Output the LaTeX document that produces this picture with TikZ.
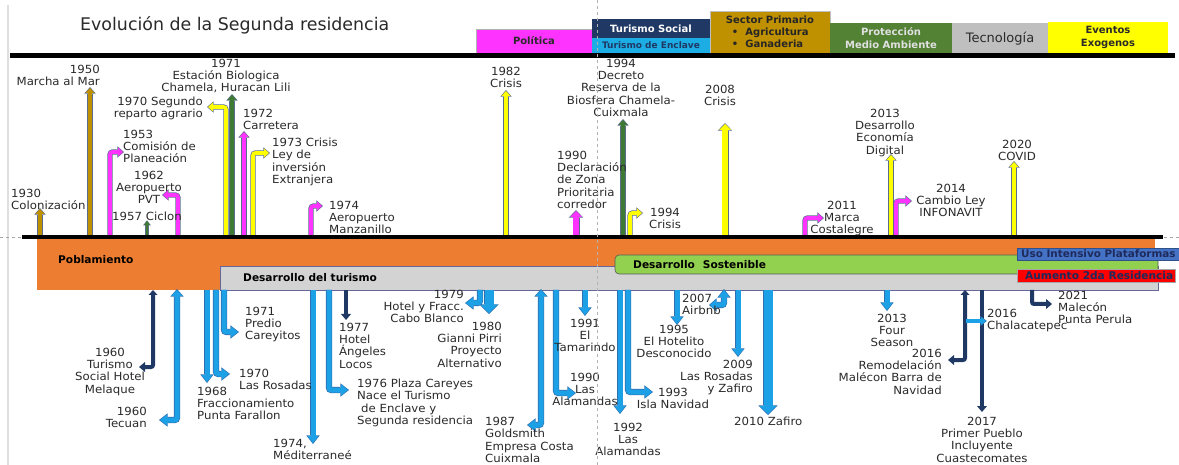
\documentclass[tikz,border=0pt]{standalone}
\usepackage{fontspec}
\setmainfont{DejaVu Sans}
\newfontfamily\lblfont{DejaVu Sans}[FakeStretch=1.05]
\usetikzlibrary{arrows.meta}
\definecolor{ochre}{HTML}{BF9000}
\definecolor{mag}{HTML}{FF33FF}
\definecolor{yel}{HTML}{FFFF00}
\definecolor{dgreen}{HTML}{3F7A35}
\definecolor{upline}{HTML}{5A6E8C}
\definecolor{lblue}{HTML}{1DA1E6}
\definecolor{lbline}{HTML}{2E6FB0}
\definecolor{navyc}{HTML}{1F3864}
\definecolor{orng}{HTML}{ED7D31}
\definecolor{bgray}{HTML}{D3D3D3}
\definecolor{sgreen}{HTML}{92D050}
\definecolor{pgreen}{HTML}{548235}
\definecolor{usoc}{HTML}{4472C4}
\definecolor{txt}{HTML}{2A2A2A}
\definecolor{tencc}{HTML}{1CADE4}
\definecolor{bandtxt}{HTML}{1F2A5C}
\newcommand\lbl{\lblfont\fontsize{11.2}{12.4}\selectfont}
\newcommand\hdr{\bfseries\fontsize{10}{12}\selectfont}
\newcommand\bnd{\bfseries\fontsize{10.6}{12}\selectfont}
\tikzset{
  lb/.style={font=\lbl, text=txt, inner sep=0pt, align=center},
  box/.style={anchor=north west, inner sep=0pt, outer sep=0pt},
  bt/.style={font=\bnd, inner sep=0pt, anchor=west},
  up/.style={line width=3.8pt, draw=#1, rounded corners=2.5pt,
    arrows={-Triangle[length=5pt,width=9pt,line width=0pt]},
    preaction={draw=upline, line width=5.2pt, rounded corners=2.5pt,
      arrows={-Triangle[length=6.6pt,width=11.4pt,line width=0pt]}, shorten >=-1pt}},
  upfat/.style={line width=5.5pt, draw=#1,
    arrows={-Triangle[length=6pt,width=12pt,line width=0pt]},
    preaction={draw=upline, line width=7pt,
      arrows={-Triangle[length=7.6pt,width=14.4pt,line width=0pt]}, shorten >=-1pt}},
  upthin/.style={line width=2.4pt, draw=#1,
    arrows={-Triangle[length=4pt,width=6pt,line width=0pt]},
    preaction={draw=upline, line width=3.4pt,
      arrows={-Triangle[length=5pt,width=7.6pt,line width=0pt]}, shorten >=-0.7pt}},
  dn/.style={line width=5pt, draw=lblue, rounded corners=2.5pt,
    arrows={-Triangle[length=7pt,width=11pt,line width=0pt]},
    preaction={draw=lbline, line width=6.4pt, rounded corners=2.5pt,
      arrows={-Triangle[length=8.6pt,width=13.4pt,line width=0pt]}, shorten >=-1pt}},
  dnS/.style={line width=3.6pt, draw=lblue,
    arrows={-Triangle[length=5pt,width=8pt,line width=0pt]},
    preaction={draw=lbline, line width=4.8pt,
      arrows={-Triangle[length=6.4pt,width=10pt,line width=0pt]}, shorten >=-0.8pt}},
  dnb/.style={line width=5pt, draw=lblue, rounded corners=2.5pt,
    arrows={Triangle[length=6pt,width=11pt,line width=0pt]-Triangle[length=7pt,width=11pt,line width=0pt]},
    preaction={draw=lbline, line width=6.4pt, rounded corners=2.5pt,
      arrows={Triangle[length=7.6pt,width=13.4pt,line width=0pt]-Triangle[length=8.6pt,width=13.4pt,line width=0pt]},
      shorten >=-1pt, shorten <=-1pt}},
  big/.style={line width=9pt, draw=lblue,
    arrows={-Triangle[length=8pt,width=17pt,line width=0pt]},
    preaction={draw=lbline, line width=10.4pt,
      arrows={-Triangle[length=9.6pt,width=19.4pt,line width=0pt]}, shorten >=-1pt}},
  nv/.style={line width=4pt, draw=navyc, rounded corners=2pt,
    arrows={-Triangle[length=6pt,width=10pt,line width=0pt]}},
  nvb/.style={line width=4pt, draw=navyc, rounded corners=2pt,
    arrows={Triangle[length=5pt,width=9pt,line width=0pt]-Triangle[length=6pt,width=10pt,line width=0pt]}},
}
\begin{document}
\begin{tikzpicture}[x=1pt,y=-1pt]
\useasboundingbox (0,0) rectangle (1179,465);
\fill[white] (0,0) rectangle (1179,465);
\draw[gray!25, line width=2pt] (8,5) -- (8,465);

% ---------- header ----------
\node[anchor=west, inner sep=0pt, font=\fontsize{17.4}{20}\selectfont, text=txt] (title) at (80,25) {Evolución de la Segunda residencia};
\node[box, fill=mag, draw=gray!60, line width=0.4pt, minimum width=116pt, minimum height=24pt, font=\hdr, text=txt] (pol) at (476,29) {Política};
\node[box, fill=navyc, minimum width=118pt, minimum height=19pt, font=\hdr, text=white] (tsoc) at (592,19) {Turismo Social};
\node[box, fill=tencc, minimum width=118pt, minimum height=15pt, font=\bfseries\fontsize{9}{11}\selectfont, text=navyc] (tenc) at (592,38) {Turismo de Enclave};
\node[box, fill=ochre, draw=gray!50, line width=0.4pt, minimum width=120pt, minimum height=42pt, font=\bfseries\fontsize{10}{12}\selectfont, text=black!85, align=left] (sec) at (710,11) {Sector Primario\\\hspace*{6pt}•\hspace*{7pt}Agricultura\\\hspace*{6pt}•\hspace*{7pt}Ganaderia};
\node[box, fill=pgreen, minimum width=122pt, minimum height=30pt, font=\bfseries\fontsize{10}{12.5}\selectfont, text=white!88!black, align=center] (prot) at (830,23) {Protección\\Medio Ambiente};
\node[box, fill=gray!50, minimum width=96pt, minimum height=32pt, font=\fontsize{13}{15}\selectfont, text=txt] (tec) at (952,23) {Tecnología};
\node[box, fill=yel, minimum width=120pt, minimum height=31pt, font=\bfseries\fontsize{10}{12.5}\selectfont, text=txt, align=center] (eve) at (1048,22) {Eventos\\Exogenos};
\draw[line width=5pt, black] (10,56) -- (1175,56);

% ---------- upward arrows ----------
\draw[up=ochre] (40,237) -- (40,209);
\draw[up=ochre] (90,237) -- (90,88);
\draw[upthin=dgreen] (147,237) -- (147,221);
\draw[up=dgreen] (232,237) -- (232,95);
\draw[up=mag] (244,237) -- (244,132);
\draw[up=yel] (506,237) -- (506,91);
\draw[upfat=mag] (576,237) -- (576,211);
\draw[up=dgreen] (623,237) -- (623,120);
\draw[upfat=yel] (725,237) -- (725,124);
\draw[up=yel] (891,237) -- (891,155);
\draw[up=yel] (1014,237) -- (1014,162);
\draw[up=mag] (110,237) |- (123,152);
\draw[up=mag] (178,237) |- (163,195);
\draw[up=yel] (226,237) |- (208,107);
\draw[up=yel] (253,237) |- (269,153);
\draw[up=mag] (311,237) |- (322,206);
\draw[up=yel] (630,237) |- (642,213);
\draw[up=mag] (805,237) |- (823,218);
\draw[up=mag] (896,237) |- (911,201);

% ---------- axis ----------
\draw[dashed, gray!70, line width=0.6pt] (0,237) -- (1179,237);
\draw[line width=4pt, black] (22,237) -- (1163,237);

% ---------- bands ----------
\node[box, fill=orng, minimum width=1118pt, minimum height=51pt] (pobl) at (37,239) {};
\node[box, fill=bgray, draw=gray!80!blue, line width=0.6pt, minimum width=938pt, minimum height=24pt] (dtur) at (220,266) {};
\node[box, fill=sgreen, draw=gray!70!black, line width=0.6pt, rounded corners=4pt, minimum width=543pt, minimum height=19pt] (dsos) at (615,255) {};
\node[box, fill=usoc, draw=usoc!70!black, line width=0.5pt, minimum width=162pt, minimum height=12pt] (uso) at (1017,248) {};
\node[box, fill=red, draw=gray!70, line width=0.5pt, minimum width=158pt, minimum height=13pt] (aum) at (1017,269) {};
\node[bt, text=black] (tpobl) at (58,260) {Poblamiento};
\node[bt, text=black] (tdtur) at (243,277.5) {Desarrollo del turismo};
\node[bt, text=black] (tdsos) at (633,264.5) {Desarrollo\hspace{8pt}Sostenible};
\node[bt, text=bandtxt, font=\bfseries\fontsize{10.4}{12}\selectfont] (tuso) at (1021,254) {Uso Intensivo Plataformas};
\node[bt, text=bandtxt] (taum) at (1025,275.5) {Aumento 2da Residencia};

% ---------- downward arrows ----------
\draw[dn] (207,290) -- (207,382);
\draw[dn] (313,290) -- (313,443);
\draw[nv] (346,290) -- (346,320);
\draw[big] (489,290) -- (489,313);
\draw[dn] (585,290) -- (585,315);
\draw[dn] (620,290) -- (620,413);
\draw[dn] (677,290) -- (677,324);
\draw[dn] (738,290) -- (738,356);
\draw[big] (768,290) -- (768,414);
\draw[dn] (887,290) -- (887,310);
\draw[nv] (982,290) -- (982,412);
\draw[nvb] (153,290) |- (139,367);
\draw[dnb] (177,290) |- (160,420);
\draw[dn] (216,290) |- (229,374);
\draw[dn] (224,290) |- (238,332);
\draw[dn] (329,290) |- (348,390);
\draw[dn] (480,290) |- (466,303);
\draw[dnb] (541,290) |- (528,425);
\draw[dn] (556,290) |- (575,393);
\draw[dn] (628,290) |- (652,392);
\draw[dnb] (710,305) -| (724,290);
\draw[nvb] (965,290) |- (948,360);
\draw[dnS] (966,321) -- (986,321);
\draw[nv] (1032,290) |- (1052,304);

% ---------- labels above ----------
\node[lb, anchor=north west, align=left] (l1930) at (11,188.5) {1930\\Colonización};
\node[lb, anchor=north east, align=right] (l1950) at (100,64.5) {1950\\Marcha al Mar};
\node[lb, anchor=north west, align=left] (l1953) at (123,129.5) {1953\\Comisión de\\Planeación};
\node[lb, anchor=north] (l1962) at (149,170.5) {1962\\Aeropuerto\\PVT};
\node[lb, anchor=west] (l1957) at (112,216) {1957 Ciclon};
\node[lb, anchor=north east, align=right] (l1970) at (203,96.5) {1970 Segundo\\reparto agrario};
\node[lb, anchor=north] (l1971) at (226,58.5) {1971\\Estación Biologica\\Chamela, Huracan Lili};
\node[lb, anchor=north west, align=left] (l1972) at (243,108.5) {1972\\Carretera};
\node[lb, anchor=north west, align=left] (l1973) at (272,137.5) {1973 Crisis\\Ley de\\inversión\\Extranjera};
\node[lb, anchor=north west, align=left] (l1974) at (329,200.5) {1974\\Aeropuerto\\Manzanillo};
\node[lb, anchor=north] (l1982) at (506,66.5) {1982\\Crisis};
\node[lb, anchor=north west, align=left] (l1990) at (557,150.5) {1990\\Declaración\\de Zona\\Prioritaria\\corredor};
\node[lb, anchor=north] (l1994d) at (621,58.5) {1994\\Decreto\\Reserva de la\\Biosfera Chamela-\\Cuixmala};
\node[lb, anchor=north] (l1994c) at (665,207.5) {1994\\Crisis};
\node[lb, anchor=north] (l2008) at (720,84.5) {2008\\Crisis};
\node[lb, anchor=north] (l2011) at (842,200.5) {2011\\Marca\\Costalegre};
\node[lb, anchor=north] (l2013) at (885,108.5) {2013\\Desarrollo\\Economía\\Digital};
\node[lb, anchor=north] (l2014) at (951,183.5) {2014\\Cambio Ley\\INFONAVIT};
\node[lb, anchor=north] (l2020) at (1017,139.5) {2020\\COVID};

% ---------- labels below ----------
\node[lb, anchor=north] (l1960m) at (110,347.5) {1960\\Turismo\\Social Hotel\\Melaque};
\node[lb, anchor=north east, align=right] (l1960t) at (147,406.5) {1960\\Tecuan};
\node[lb, anchor=north west, align=left] (l1968) at (197,386.5) {1968\\Fraccionamiento\\Punta Farallon};
\node[lb, anchor=north west, align=left] (l1970d) at (239,368.5) {1970\\Las Rosadas};
\node[lb, anchor=north west, align=left] (l1971d) at (245,306.5) {1971\\Predio\\Careyitos};
\node[lb, anchor=north west, align=left] (l1974d) at (273,438.5) {1974,\\Méditerraneé};
\node[lb, anchor=north west, align=left] (l1977) at (339,322.5) {1977\\Hotel\\Ángeles\\Locos};
\node[lb, anchor=north west, align=left] (l1976) at (357,378.5) {1976 Plaza Careyes\\Nace el Turismo\\\hspace*{4pt}de Enclave y\\Segunda residencia};
\node[lb, anchor=north east, align=right] (l1979) at (464,289.5) {1979\\Hotel y Fracc.\\Cabo Blanco};
\node[lb, anchor=north east, align=right] (l1980) at (502,321.5) {1980\\Gianni Pirri\\Proyecto\\Alternativo};
\node[lb, anchor=north west, align=left] (l1987) at (485,417) {1987\\Goldsmith\\Empresa Costa\\Cuixmala};
\node[lb, anchor=north] (l1990d) at (585,372.5) {1990\\Las\\Alamandas};
\node[lb, anchor=north] (l1991) at (585,318.5) {1991\\El\\Tamarindo};
\node[lb, anchor=north] (l1992) at (628,422.5) {1992\\Las\\Alamandas};
\node[lb, anchor=north] (l1993) at (673,387.5) {1993\\Isla Navidad};
\node[lb, anchor=north] (l1995) at (674,324.5) {1995\\El Hotelito\\Desconocido};
\node[lb, anchor=north west, align=left] (l2007) at (682,293.5) {2007\\Airbnb};
\node[lb, anchor=north east, align=right] (l2009) at (753,359.5) {2009\\Las Rosadas\\y Zafiro};
\node[lb, anchor=west] (l2010) at (734,421) {2010 Zafiro};
\node[lb, anchor=north] (l2013d) at (892,313.5) {2013\\Four\\Season};
\node[lb, anchor=north east, align=right] (l2016r) at (942,348.5) {2016\\Remodelación\\Malécon Barra de\\Navidad};
\node[lb, anchor=north west, align=left] (l2016c) at (987,308.5) {2016\\Chalacatepec};
\node[lb, anchor=north] (l2017) at (982,416.5) {2017\\Primer Pueblo\\Incluyente\\Cuastecomates};
\node[lb, anchor=north west, align=left] (l2021) at (1058,290.5) {2021\\Malecón\\Punta Perula};

% ---------- vertical dashed line ----------
\draw[dashed, gray!60, line width=0.6pt] (597,0) -- (597,465);
\end{tikzpicture}
\end{document}
